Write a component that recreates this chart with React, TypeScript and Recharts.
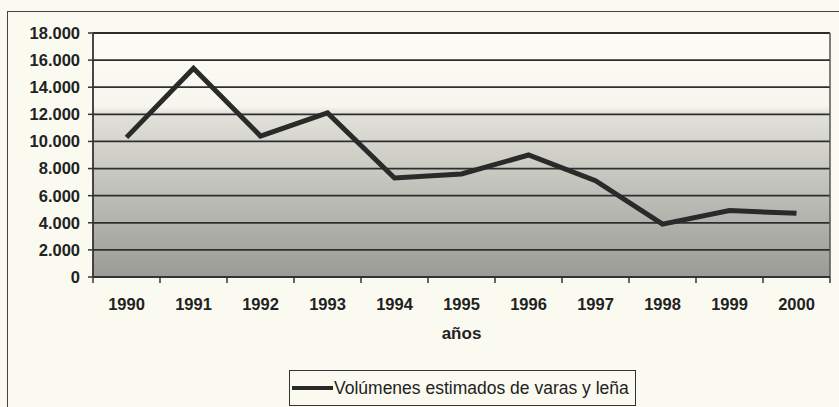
import { CartesianGrid, Legend, Line, LineChart, ReferenceLine, XAxis, YAxis } from 'recharts';

const years = ['1990', '1991', '1992', '1993', '1994', '1995', '1996', '1997', '1998', '1999', '2000'];
const volumes = [10300, 15400, 10400, 12100, 7300, 7600, 9000, 7100, 3900, 4900, 4700];
const yTicks = [0, 2000, 4000, 6000, 8000, 10000, 12000, 14000, 16000, 18000];

const seriesName = 'Volúmenes estimados de varas y leña';

const data = years.map((year, i) => ({ idx: i, year, value: volumes[i] }));
// labels sit at category centres, tick marks at category boundaries (Excel style)
const xTicks = [...years.map((_, i) => i - 0.5), years.length - 0.5, ...years.map((_, i) => i)].sort((a, b) => a - b);

const font = 'Arial, "Liberation Sans", sans-serif';

const fmtThousands = (v: number) => v.toString().replace(/\B(?=(\d{3})+(?!\d))/g, '.');

function YearTick(props: any) {
  const { x, y, payload } = props;
  const v = payload.value as number;
  if (!Number.isInteger(v)) {
    return <line x1={x} x2={x} y1={y - 6} y2={y} stroke="#333" strokeWidth={1.5} />;
  }
  return (
    <text
      x={x}
      y={y + 15}
      dy="0.71em"
      textAnchor="middle"
      fontFamily={font}
      fontSize={16.5}
      fontWeight="bold"
      fill="#222"
    >
      {years[v]}
    </text>
  );
}

function LegendBox() {
  return (
    <div
      style={{
        border: '1.5px solid #333',
        padding: '0 6px 0 2px',
        height: 36,
        boxSizing: 'border-box',
        display: 'flex',
        alignItems: 'center',
        fontFamily: font,
        fontSize: 17.5,
        color: '#222',
        background: '#fafaf0',
        whiteSpace: 'nowrap',
      }}
    >
      <span style={{ display: 'inline-block', width: 41, height: 4, background: '#2a2a2a', marginRight: 1 }} />
      {seriesName}
    </div>
  );
}

export default function App() {
  return (
    <div style={{ position: 'fixed', left: 0, top: 0, width: 839, height: 407, background: '#fafaf0', overflow: 'hidden' }}>
      <div
        style={{
          position: 'absolute',
          left: 7,
          top: 11,
          width: 840,
          height: 400,
          border: '1.5px solid #444',
          boxSizing: 'border-box',
        }}
      />
      <LineChart width={839} height={407} data={data} margin={{ top: 33, right: 9, bottom: 0, left: 0 }}>
        <defs>
          <linearGradient id="plotBg" x1="0" y1="0" x2="0" y2="1">
            <stop offset="0%" stopColor="#fdfdf6" />
            <stop offset="30%" stopColor="#f6f6ee" />
            <stop offset="33%" stopColor="#e2e2da" />
            <stop offset="100%" stopColor="#9a9a96" />
          </linearGradient>
        </defs>
        <CartesianGrid vertical={false} fill="url(#plotBg)" stroke="#2e2e2e" strokeWidth={1.8} />
        <XAxis
          type="number"
          dataKey="idx"
          domain={[-0.5, years.length - 0.5]}
          ticks={xTicks}
          tick={<YearTick />}
          tickLine={false}
          tickSize={6}
          tickMargin={0}
          axisLine={{ stroke: '#333', strokeWidth: 1.8 }}
          height={130}
          interval={0}
          label={{
            value: 'años',
            position: 'insideTop',
            offset: 50,
            style: { fontFamily: font, fontSize: 17, fontWeight: 'bold', fill: '#222' },
          }}
        />
        <YAxis
          type="number"
          domain={[0, 18000]}
          ticks={yTicks}
          tickFormatter={fmtThousands}
          width={93}
          tickSize={5}
          tickMargin={8}
          interval={0}
          axisLine={{ stroke: '#333', strokeWidth: 1.8 }}
          tickLine={{ stroke: '#333', strokeWidth: 1.5 }}
          tick={{ fontFamily: font, fontSize: 16.5, fontWeight: 'bold', fill: '#222' }}
        />
        <ReferenceLine x={years.length - 0.5} stroke="#555" strokeWidth={1.5} />
        <Legend
          layout="vertical"
          align="center"
          verticalAlign="middle"
          content={() => <LegendBox />}
          wrapperStyle={{ left: 289, top: 370, width: 'auto' }}
        />
        <Line
          type="linear"
          dataKey="value"
          name={seriesName}
          stroke="#2a2a2a"
          strokeWidth={5}
          dot={false}
          isAnimationActive={false}
        />
      </LineChart>
    </div>
  );
}
